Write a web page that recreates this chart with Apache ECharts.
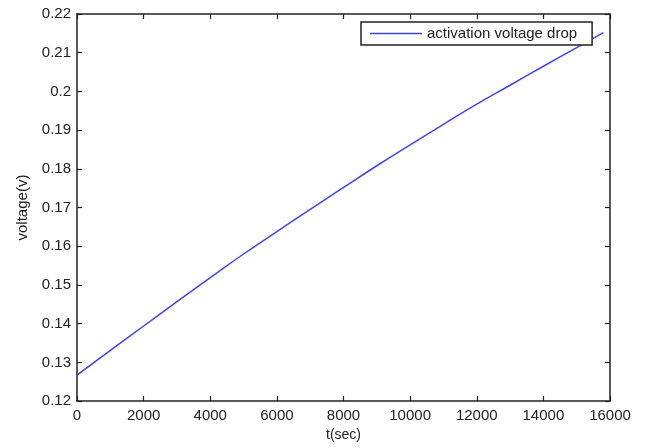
<!DOCTYPE html>
<html>
<head>
<meta charset="utf-8">
<script src="https://cdn.jsdelivr.net/npm/echarts@6/dist/echarts.min.js"></script>
<style>
  html, body { margin: 0; padding: 0; background: #fff; }
  #chart { width: 649px; height: 447px; }
</style>
</head>
<body>
<div id="chart"></div>
<script>
// Activation voltage drop over time
const timeSec = [0, 1000, 2000, 3000, 4000, 5000, 6000, 7000, 8000, 9000, 10000, 11000, 12000, 13000, 14000, 15000, 15800];
const activationDrop = [0.1267, 0.1331, 0.1394, 0.1457, 0.1519, 0.1580, 0.1638, 0.1695, 0.1752, 0.1808, 0.1862, 0.1915, 0.1967, 0.2016, 0.2065, 0.2113, 0.2152];
const seriesName = 'activation voltage drop';

const points = timeSec.map((t, i) => [t, activationDrop[i]]);

const font = '"Liberation Sans", Arial, sans-serif';
const axisColor = '#222';
const lineColor = '#4343f5';

const baseAxis = {
  axisLine: { show: true, onZero: false, lineStyle: { color: axisColor, width: 1.5 } },
  axisTick: { show: true, inside: true, length: 5, lineStyle: { color: axisColor, width: 1.2 } },
  splitLine: { show: false }
};

const chart = echarts.init(document.getElementById('chart'), null, { renderer: 'canvas' });
chart.setOption({
  animation: false,
  backgroundColor: '#fff',
  grid: { left: 77, top: 14, right: 39, bottom: 45, containLabel: false },
  legend: {
    data: [seriesName],
    left: 361,
    top: 22,
    z: 10,
    padding: [4, 15, 4, 9],
    icon: 'rect',
    itemWidth: 52,
    itemHeight: 1.5,
    backgroundColor: '#fff',
    borderColor: '#222',
    borderWidth: 1.5,
    borderRadius: 0,
    itemStyle: { color: lineColor },
    textStyle: { fontFamily: font, fontSize: 15, color: '#222' }
  },
  xAxis: [
    Object.assign({}, baseAxis, {
      type: 'value', position: 'bottom', min: 0, max: 16000, interval: 2000,
      name: 't(sec)', nameLocation: 'middle', nameGap: 25,
      nameTextStyle: { fontFamily: font, fontSize: 14, color: '#222' },
      axisLabel: { fontFamily: font, fontSize: 15, color: '#222', margin: 7, formatter: v => String(v) }
    }),
    Object.assign({}, baseAxis, {
      type: 'value', position: 'top', min: 0, max: 16000, interval: 2000,
      axisLabel: { show: false }
    })
  ],
  yAxis: [
    Object.assign({}, baseAxis, {
      type: 'value', position: 'left', min: 0.12, max: 0.22, interval: 0.01,
      name: 'voltage(v)', nameLocation: 'middle', nameGap: 47,
      nameTextStyle: { fontFamily: font, fontSize: 15, color: '#222' },
      axisLabel: { fontFamily: font, fontSize: 15, color: '#222', margin: 6 }
    }),
    Object.assign({}, baseAxis, {
      type: 'value', position: 'right', min: 0.12, max: 0.22, interval: 0.01,
      axisLabel: { show: false }
    })
  ],
  series: [{
    name: seriesName,
    type: 'line',
    xAxisIndex: 0,
    yAxisIndex: 0,
    z: 1,
    data: points,
    symbol: 'none',
    smooth: true,
    lineStyle: { color: lineColor, width: 1.5 },
    itemStyle: { color: lineColor }
  }]
});
</script>
</body>
</html>
